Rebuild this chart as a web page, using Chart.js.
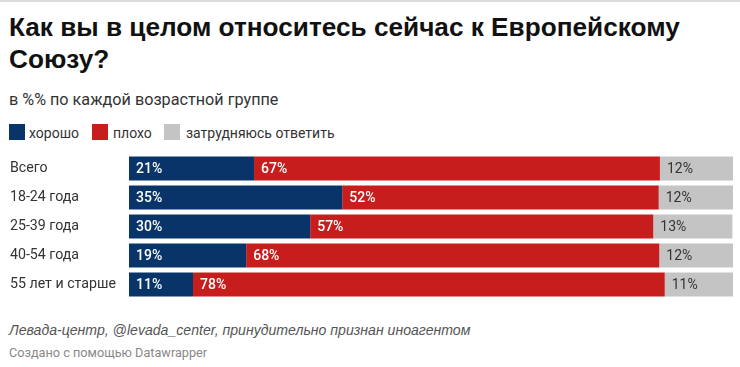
<!DOCTYPE html>
<html lang="ru">
<head>
<meta charset="utf-8">
<script src="https://cdn.jsdelivr.net/npm/chart.js@4.4.1/dist/chart.umd.min.js"></script>
<style>
  html, body { margin: 0; padding: 0; background: #fff; }
  body { width: 740px; height: 367px; position: relative; overflow: hidden; font-family: Roboto, "Liberation Sans", sans-serif; }
  .topline { position: absolute; left: 0; top: 0; width: 740px; height: 2px; background: #dcdcdc; }
  .title { position: absolute; left: 9px; top: 12px; font-family: "Liberation Sans", Arial, sans-serif; font-weight: bold; font-size: 26.2px; line-height: 31.5px; color: #111; white-space: nowrap; }
  .subtitle { position: absolute; left: 9px; top: 90px; font-size: 16.2px; line-height: 20px; color: #333; white-space: nowrap; }
  .lg-box { position: absolute; top: 124px; width: 16px; height: 16px; }
  .lg-text { position: absolute; top: 125px; font-size: 14px; line-height: 16px; color: #333; white-space: nowrap; }
  .src { position: absolute; left: 9px; top: 322px; font-family: "Liberation Sans", Arial, sans-serif; font-size: 14.1px; line-height: 16px; font-style: italic; color: #555; white-space: nowrap; }
  .made { position: absolute; left: 9px; top: 345px; font-size: 12.7px; line-height: 15px; color: #888; white-space: nowrap; }
  #chart { position: absolute; left: 0; top: 154px; }
</style>
</head>
<body>
<div class="topline"></div>
<div class="title">Как вы в целом относитесь сейчас к Европейскому<br>Союзу?</div>
<div class="subtitle">в %% по каждой возрастной группе</div>
<div id="legend"></div>
<canvas id="chart" width="740" height="145"></canvas>
<div class="src">Левада-центр, @levada_center, принудительно признан иноагентом</div>
<div class="made">Создано с помощью Datawrapper</div>
<script>
// ---- data ----
const categories = ["Всего", "18-24 года", "25-39 года", "40-54 года", "55 лет и старше"];
const seriesNames = ["хорошо", "плохо", "затрудняюсь ответить"];
const good   = [20.7, 35.3, 30.0, 19.4, 10.6];
const bad    = [67.2, 52.4, 56.8, 68.4, 78.1];
const unsure = [12.1, 12.3, 13.1, 12.2, 11.3];

// ---- styles ----
const colors = ["#08346a", "#c71d1d", "#c4c4c4"];
const labelColors = ["#ffffff", "#ffffff", "#333333"];

// legend
const legendPos = [[9, 29], [92, 113], [164, 186]];
const legend = document.getElementById("legend");
seriesNames.forEach((n, i) => {
  const b = document.createElement("div");
  b.className = "lg-box";
  b.style.left = legendPos[i][0] + "px";
  b.style.background = colors[i];
  legend.appendChild(b);
  const t = document.createElement("div");
  t.className = "lg-text";
  t.style.left = legendPos[i][1] + "px";
  t.textContent = n;
  legend.appendChild(t);
});

const valueLabels = {
  id: "valueLabels",
  afterDatasetsDraw(chart) {
    const ctx = chart.ctx;
    ctx.save();
    ctx.textBaseline = "middle";
    ctx.textAlign = "left";
    chart.data.datasets.forEach((ds, di) => {
      const meta = chart.getDatasetMeta(di);
      meta.data.forEach((el, i) => {
        const v = ds.data[i];
        ctx.fillStyle = labelColors[di];
        ctx.font = (di < 2 ? "500 " : "400 ") + "14px Roboto";
        const left = Math.min(el.base, el.x);
        ctx.fillText(Math.round(v) + "%", left + 7, el.y + 0.5);
      });
    });
    ctx.restore();
  }
};

function draw() {
  Chart.defaults.font.family = "Roboto";
  Chart.defaults.font.size = 14;
  Chart.defaults.color = "#333";
  new Chart(document.getElementById("chart"), {
    type: "bar",
    data: {
      labels: categories,
      datasets: [
        { label: seriesNames[0], data: good, backgroundColor: colors[0] },
        { label: seriesNames[1], data: bad, backgroundColor: colors[1] },
        { label: seriesNames[2], data: unsure, backgroundColor: colors[2] }
      ]
    },
    options: {
      indexAxis: "y",
      responsive: false,
      animation: false,
      devicePixelRatio: 1,
      layout: { padding: { left: 10, right: 7, top: 0, bottom: 0 } },
      datasets: { bar: { categoryPercentage: 1, barPercentage: 24 / 29, borderWidth: 0 } },
      plugins: { legend: { display: false }, tooltip: { enabled: false } },
      scales: {
        x: { stacked: true, min: 0, max: 100, display: false },
        y: {
          stacked: true,
          grid: { display: false },
          border: { display: false },
          ticks: { crossAlign: "far", color: "#333", font: { size: 14.2 }, padding: 0 },
          afterFit(scale) { scale.width = 119; scale.paddingTop = 0; scale.paddingBottom = 0; }
        }
      }
    },
    plugins: [valueLabels]
  });
}

Promise.all([
  document.fonts.load("14px Roboto"),
  document.fonts.load("500 14px Roboto")
]).then(draw, draw);
</script>
</body>
</html>
